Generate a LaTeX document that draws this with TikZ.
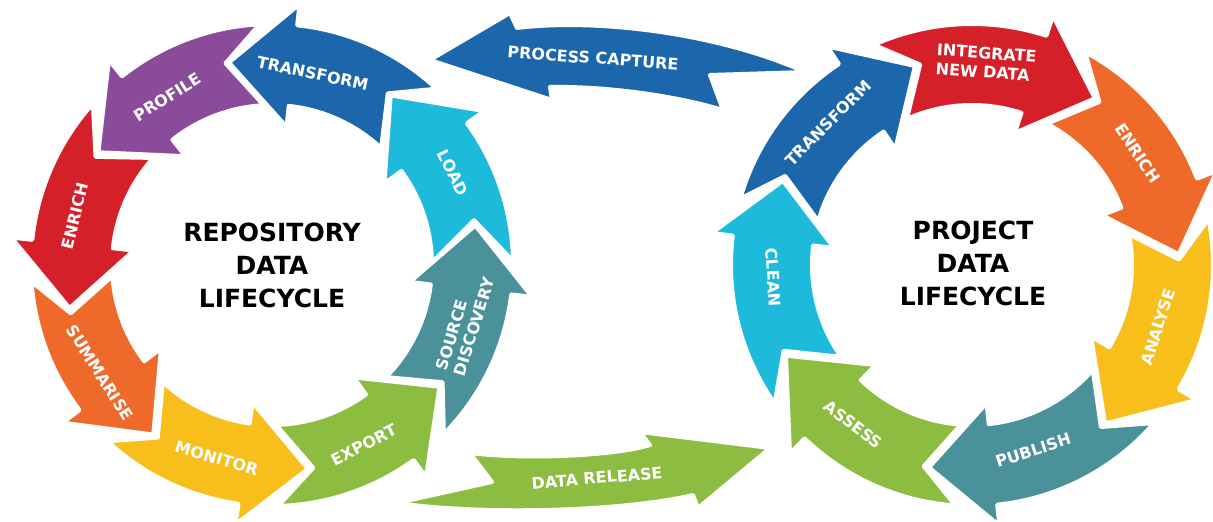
\documentclass[tikz,border=0pt]{standalone}
\usepackage{fontspec}
\setmainfont{DejaVu Sans}
\definecolor{cBlue}{HTML}{1C67AB}
\definecolor{cPurple}{HTML}{8B4B9B}
\definecolor{cRed}{HTML}{D5202A}
\definecolor{cOrange}{HTML}{EF6A2A}
\definecolor{cYellow}{HTML}{F7BE1C}
\definecolor{cGreen}{HTML}{8CBC40}
\definecolor{cTeal}{HTML}{4A919A}
\definecolor{cCyan}{HTML}{1EBADC}
\tikzset{
  lbl/.style={text=white, font=\fontsize{16}{19}\selectfont\bfseries, align=center, inner sep=0pt},
  ttl/.style={text=black, font=\fontsize{25}{33}\selectfont\bfseries, align=center, inner sep=0pt},
  seg/.style={draw=white, line width=4pt, line join=round},
}
\def\rIn{160pt}\def\rOut{241pt}\def\rMid{207pt}\def\rBi{139pt}\def\rBo{262pt}
% #1 colour, #2 tail angle, #3 notch angle, #4 head base angle, #5 tip angle
\newcommand\ringarrow[5]{%
  \filldraw[seg, fill=#1] (#2:\rOut) -- (#3:\rMid) -- (#2:\rIn)
    arc[start angle=#2, end angle=#4, radius=\rIn] -- (#4:\rBi) -- (#5:\rMid)
    -- (#4:\rBo) -- (#4:\rOut) arc[start angle=#4, end angle=#2, radius=\rOut] -- cycle;}
\begin{document}
\begin{tikzpicture}[x=1pt,y=1pt]
\useasboundingbox (0,0) rectangle (1213,522);
% connecting arrows
\filldraw[seg, fill=cBlue] (430,462) -- (510,509) -- (517,494)
  .. controls (600,504) and (720,488) .. (805,450) -- (710,447) -- (723,412)
  .. controls (670,428) and (600,436) .. (550,435) -- (552,422) -- cycle;
\node[lbl, rotate=-4] (pcap) at (593,464) {PROCESS CAPTURE};
\filldraw[seg, fill=cGreen] (770,74) -- (640,90) -- (650,77)
  .. controls (615,66) and (525,62) .. (470,69) -- (492,40) -- (397,19)
  .. controls (480,7) and (620,10) .. (693,27) -- (698,14) -- cycle;
\node[lbl, rotate=5] (drel) at (597,44) {DATA RELEASE};
% left cycle
\begin{scope}[shift={(272,257)}]
  \ringarrow{cBlue}{47}{56}{84}{102}
  \ringarrow{cPurple}{93}{103}{128.5}{147}
  \ringarrow{cRed}{138}{148.5}{174}{192}
  \ringarrow{cOrange}{184}{193.5}{217}{235}
  \ringarrow{cYellow}{227}{236.5}{262}{280}
  \ringarrow{cGreen}{271.5}{281.5}{306}{324}
  \ringarrow{cTeal}{315.5}{325.5}{353}{371}
  \ringarrow{cCyan}{361}{372.5}{396}{415}
  \node[lbl, rotate=-12] (lTransform) at (78:196pt) {TRANSFORM};
  \node[lbl, rotate=32] (lProfile) at (122:198pt) {PROFILE};
  \node[lbl, rotate=76] (lEnrich) at (166:203pt) {ENRICH};
  \node[lbl, rotate=-58] (lSummarise) at (212:203pt) {SUMMARISE};
  \node[lbl, rotate=-16] (lMonitor) at (254:201pt) {MONITOR};
  \node[lbl, rotate=27] (lExport) at (297:202pt) {EXPORT};
  \node[lbl, rotate=73, align=left] (lSource) at (343:202pt) {SOURCE\\DISCOVERY};
  \node[lbl, rotate=-63] (lLoad) at (27:203pt) {LOAD};
  \node[ttl] (repo) at (0,0) {REPOSITORY\\DATA\\LIFECYCLE};
\end{scope}
% right cycle
\begin{scope}[shift={(972,257)}]
  \ringarrow{cBlue}{164}{154.5}{123.5}{106}
  \ringarrow{cRed}{114}{104.5}{72}{53.6}
  \ringarrow{cOrange}{62}{52}{21}{3}
  \ringarrow{cYellow}{11}{1.5}{-31}{-50}
  \ringarrow{cTeal}{-41}{-51.5}{-84}{-102}
  \ringarrow{cGreen}{-94}{-103.5}{-134}{-154}
  \ringarrow{cCyan}{215}{204.5}{173}{156}
  \node[lbl, rotate=45] (rTransform) at (135.4:202pt) {TRANSFORM};
  \node[lbl, rotate=-4, align=left] (rIntegrate) at (86:203pt) {INTEGRATE\\NEW DATA};
  \node[lbl, rotate=-56] (rEnrich) at (34:200pt) {ENRICH};
  \node[lbl, rotate=72] (rAnalyse) at (-18.4:196pt) {ANALYSE};
  \node[lbl, rotate=18] (rPublish) at (-71.7:195pt) {PUBLISH};
  \node[lbl, rotate=-37] (rAssess) at (-126.6:199pt) {ASSESS};
  \node[lbl, rotate=-86.5] (rClean) at (183.5:199pt) {CLEAN};
  \node[ttl] (proj) at (1,2) {PROJECT\\DATA\\LIFECYCLE};
\end{scope}
\end{tikzpicture}
\end{document}
